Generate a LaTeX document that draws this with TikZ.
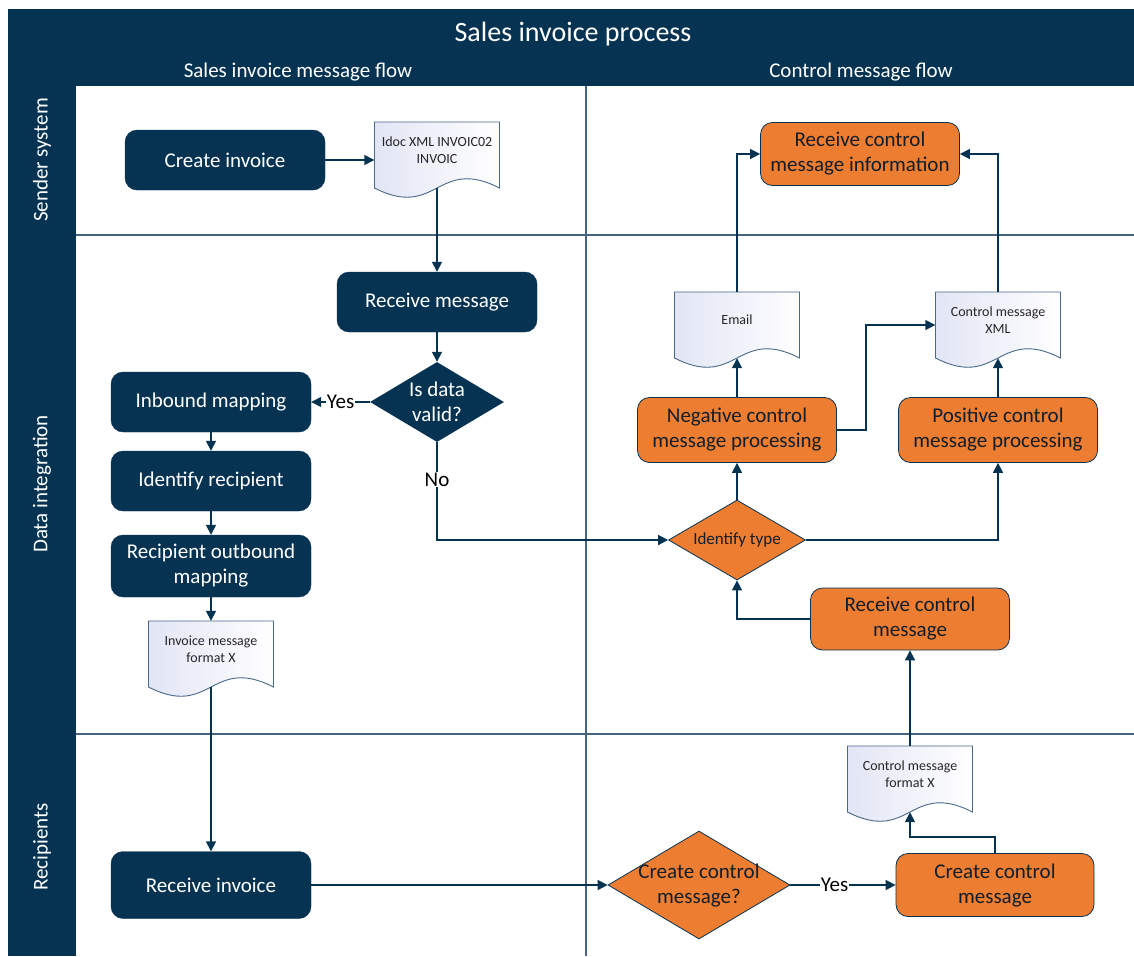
\documentclass[tikz,border=0pt]{standalone}
\usepackage{fontspec}
\setmainfont{Carlito}
\usetikzlibrary{arrows.meta,shapes.geometric,calc}

\definecolor{navy}{RGB}{7,51,82}
\definecolor{orng}{RGB}{237,125,49}
\definecolor{laneline}{RGB}{70,100,130}
\definecolor{docline}{RGB}{72,104,136}
\definecolor{docfill}{RGB}{226,229,245}
\definecolor{inktext}{RGB}{18,30,44}

\tikzset{
  proc/.style={rectangle, rounded corners=12pt, minimum width=200pt, minimum height=60pt,
    align=center, font=\fontsize{21}{25}\selectfont, inner sep=2pt},
  darkproc/.style={proc, fill=navy, draw=navy, text=white},
  orgproc/.style={proc, fill=orng, draw=navy, line width=0.8pt, text=inktext},
  darkdiam/.style={diamond, fill=navy, inner sep=0pt},
  orgdiam/.style={diamond, fill=orng, draw=navy, line width=0.8pt, inner sep=0pt},
  diamtext/.style={align=center, font=\fontsize{21}{25}\selectfont, inner sep=0pt},
  docbox/.style={rectangle, minimum width=125pt, minimum height=66pt, inner sep=0pt},
  docshape/.style={draw=docline, line width=0.9pt, left color=docfill, right color=white},
  doctext/.style={align=center, font=\fontsize{14}{17}\selectfont, text=black!85, inner sep=0pt},
  flow/.style={draw=navy, line width=1.6pt, -{Triangle[length=10pt,width=10pt]}},
  lbl/.style={fill=white, text=black, font=\fontsize{21}{25}\selectfont, inner sep=1pt},
  lane/.style={draw=laneline, line width=1.3pt},
  head/.style={text=white, font=\fontsize{21}{25}\selectfont},
}

% document symbol: wavy-bottomed sheet; #1 name, #2 centre x, #3 top y, #4 text
\newcommand\docnode[4]{%
  \path[docshape] (#2-62.5,#3) -- (#2+62.5,#3) -- (#2+62.5,#3+66)
    .. controls (#2,#3+34) and (#2,#3+98) .. (#2-62.5,#3+66) -- cycle;
  \node[docbox] (#1) at (#2,#3+33) {};
  \node[doctext] (#1-t) at (#2,#3+28) {#4};}

\begin{document}
\begin{tikzpicture}[x=1pt,y=-1pt]
\useasboundingbox (0,0) rectangle (1134,956);

% pool frame, header band and lane band
\fill[navy] (8,9) rectangle (1134,956);
\fill[white] (76,86) rectangle (1134,956);

\node[head, font=\fontsize{28}{32}\selectfont] (title) at (573,34) {Sales invoice process};
\node[head] (colA) at (298,72) {Sales invoice message flow};
\node[head] (colB) at (861,72) {Control message flow};

\node[head, rotate=90] (laneA) at (42,160) {Sender system};
\node[head, rotate=90] (laneB) at (42,484) {Data integration};
\node[head, rotate=90] (laneC) at (42,847) {Recipients};

% lane and column separators
\path[lane] (76,235) -- (1134,235);
\path[lane] (76,734) -- (1134,734);
\path[lane] (586,86) -- (586,956);

% sales invoice message flow
\node[darkproc] (ci) at (225,160) {Create invoice};
\docnode{d1}{437}{122}{Idoc XML INVOIC02\\INVOIC}
\node[darkproc] (rm) at (437,302) {Receive message};
\node[darkdiam, minimum width=134pt, minimum height=80pt] (dv) at (437,402) {};
\node[diamtext, text=white] (dv-t) at (437,402) {Is data\\valid?};
\node[darkproc] (im) at (211,402) {Inbound mapping};
\node[darkproc] (ir) at (211,481) {Identify recipient};
\node[darkproc, minimum height=62pt] (ro) at (211,566) {Recipient outbound\\mapping};
\docnode{d2}{211}{621}{Invoice message\\format X}
\node[darkproc, minimum height=67pt] (ri) at (211,885) {Receive invoice};

% control message flow
\node[orgdiam, minimum width=182pt, minimum height=108pt] (dc) at (699,885) {};
\node[diamtext, text=inktext] (dc-t) at (699,885) {Create control\\message?};
\node[orgproc, minimum width=198pt, minimum height=63pt] (cc) at (995,885) {Create control\\message};
\docnode{d3}{910}{746}{Control message\\format X}
\node[orgproc, minimum width=199pt, minimum height=62pt] (rc) at (910,619) {Receive control\\message};
\node[orgdiam, minimum width=137pt, minimum height=80pt] (dt) at (737,540) {};
\node[diamtext, text=inktext, font=\fontsize{17}{20}\selectfont] (dt-t) at (737,540) {Identify type};
\node[orgproc, minimum width=199pt, minimum height=65pt] (ng) at (737,430) {Negative control\\message processing};
\node[orgproc, minimum width=199pt, minimum height=65pt] (ps) at (998,430) {Positive control\\message processing};
\docnode{d4}{737}{292}{Email}
\docnode{d5}{998}{292}{Control message\\XML}
\node[orgproc, minimum width=199pt, minimum height=63pt] (rci) at (860,154) {Receive control\\message information};

% connectors
\draw[flow] (ci.east) -- (ci.east -| d1.west);
\draw[flow] (d1.south) -- (rm.north);
\draw[flow] (rm.south) -- (dv.north);
\draw[flow] (dv.west) -- node[lbl] (yes1) {Yes} (im.east);
\draw[flow] (dv.south) |- node[lbl, pos=0.19] (no1) {No} (dt.west);
\draw[flow] (im.south) -- (ir.north);
\draw[flow] (ir.south) -- (ro.north);
\draw[flow] (ro.south) -- (d2.north);
\draw[flow] (d2.south) -- (ri.north);
\draw[flow] (ri.east) -- (dc.west);
\draw[flow] (dc.east) -- node[lbl, pos=0.42] (yes2) {Yes} (cc.west);
\draw[flow] (cc.north) -- ++(0,-16) -| (d3.south);
\draw[flow] (d3.north) -- (rc.south);
\draw[flow] (rc.west) -| (dt.south);
\draw[flow] (dt.north) -- (ng.south);
\draw[flow] (dt.east) -| (ps.south);
\draw[flow] (ng.north) -- (d4.south);
\draw[flow] (ps.north) -- (d5.south);
\draw[flow] (ng.east) -- ++(29,0) |- (d5.west);
\draw[flow] (d4.north) |- (rci.west);
\draw[flow] (d5.north) |- (rci.east);
\end{tikzpicture}
\end{document}
